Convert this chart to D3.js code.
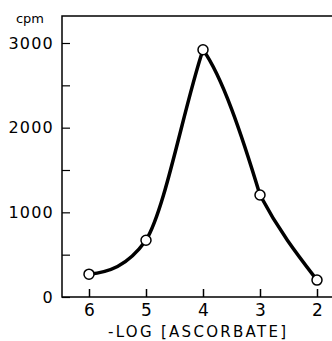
<!DOCTYPE html>
<meta charset="utf-8">
<style>
body { margin: 0; background: #fff; }
svg { display: block; }
text { font-family: "DejaVu Sans", sans-serif; fill: #000; }
</style>
<svg width="332" height="341"></svg>
<script src="https://cdn.jsdelivr.net/npm/d3@7"></script>
<script>

var logAsc = [6, 5, 4, 3, 2];
var cpm = [270, 670, 2920, 1205, 200];
var xTicks = [6, 5, 4, 3, 2];
var yTicks = [0, 500, 1000, 1500, 2000, 2500, 3000];
var yLabels = [0, 1000, 2000, 3000];

// hand-drawn look: screen slope (dy/dx) entering and leaving each point
var slopeIn  = [0, -1.4, -3.0, 3.3, 1.3];
var slopeOut = [-0.1, -1.6, 1.4, 1.9, 0];

var svg = d3.select("svg");

var x = d3.scaleLinear().domain([6, 2]).range([89, 317]);
var y = d3.scaleLinear().domain([0, 3000]).range([297, 43]);

var x0 = 62, x1 = 332, y0 = 297, y1 = 16;

// frame: top, left and bottom lines
svg.append("path")
    .attr("d", "M" + x1 + "," + y1 + "H" + x0 + "V" + y0 + "H" + x1)
    .attr("fill", "none")
    .attr("stroke", "#000")
    .attr("stroke-width", 1.5);

var xAxis = svg.append("g")
    .attr("transform", "translate(0," + y0 + ")")
    .call(d3.axisBottom(x).tickValues(xTicks).tickSizeInner(-8).tickSizeOuter(0).tickPadding(7)
      .tickFormat(d3.format("d")));
xAxis.select(".domain").remove();
xAxis.selectAll("line").attr("stroke-width", 1.5);
xAxis.selectAll("text").attr("font-size", 17).attr("font-family", "DejaVu Sans");

var yAxis = svg.append("g")
    .attr("transform", "translate(" + x0 + ",0)")
    .call(d3.axisLeft(y).tickValues(yTicks).tickSizeInner(-8).tickSizeOuter(0).tickPadding(16)
      .tickFormat(function(d) { return yLabels.indexOf(d) >= 0 ? d : ""; }));
yAxis.select(".domain").remove();
yAxis.selectAll("line").attr("stroke-width", 1.2);
yAxis.selectAll("text")
    .attr("font-size", 16)
    .attr("font-family", "DejaVu Sans")
    .attr("letter-spacing", 1.2)
    .attr("x", -8);

svg.append("text")
    .attr("x", 30).attr("y", 23)
    .attr("text-anchor", "middle")
    .attr("font-size", 13)
    .text("cpm");

svg.append("text")
    .attr("x", 197).attr("y", 337)
    .attr("text-anchor", "middle")
    .attr("font-size", 15)
    .attr("textLength", 178)
    .text("-LOG [ASCORBATE]");

var pts = logAsc.map(function(d, i) { return [x(d), y(cpm[i])]; });

// cubic segments between the points, with a kink allowed at each point
var p = d3.path();
p.moveTo(pts[0][0], pts[0][1]);
for (var i = 0; i < pts.length - 1; i++) {
  var a = pts[i], b = pts[i + 1], h = (b[0] - a[0]) / 3;
  p.bezierCurveTo(a[0] + h, a[1] + slopeOut[i] * h,
                  b[0] - h, b[1] - slopeIn[i + 1] * h,
                  b[0], b[1]);
}

svg.append("path")
    .attr("d", p.toString())
    .attr("fill", "none")
    .attr("stroke", "#000")
    .attr("stroke-width", 3.5)
    .attr("stroke-linejoin", "round");

svg.selectAll("circle")
    .data(pts)
  .enter().append("circle")
    .attr("cx", function(d) { return d[0]; })
    .attr("cy", function(d) { return d[1]; })
    .attr("r", 5)
    .attr("fill", "#fff")
    .attr("stroke", "#000")
    .attr("stroke-width", 1.5);

</script>
